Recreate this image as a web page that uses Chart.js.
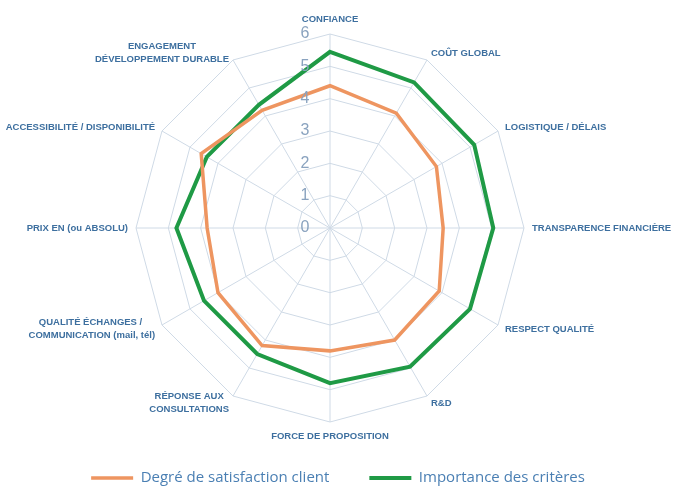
<!DOCTYPE html>
<html>
<head>
<meta charset="utf-8">
<script src="https://cdn.jsdelivr.net/npm/chart.js@4"></script>
<style>
  html, body { margin: 0; padding: 0; background: #ffffff; }
  #wrap { width: 676px; height: 490px; }
</style>
</head>
<body>
<div id="wrap"><canvas id="radar"></canvas></div>
<script>
// Critères évalués (sens horaire à partir du haut)
const criteres = [
  'CONFIANCE',
  'COÛT GLOBAL',
  'LOGISTIQUE / DÉLAIS',
  'TRANSPARENCE FINANCIÈRE',
  'RESPECT QUALITÉ',
  'R&D',
  'FORCE DE PROPOSITION',
  ['RÉPONSE AUX', 'CONSULTATIONS'],
  ['QUALITÉ ÉCHANGES / ', 'COMMUNICATION (mail, tél)'],
  'PRIX EN (ou ABSOLU)',
  'ACCESSIBILITÉ / DISPONIBILITÉ',
  ['ENGAGEMENT', 'DÉVELOPPEMENT DURABLE']
];

const satisfaction = [4.4, 4.1, 3.8, 3.5, 3.9, 4.0, 3.8, 4.2, 4.0, 3.8, 4.6, 4.2];
const importance   = [5.45, 5.2, 5.15, 5.05, 5.0, 4.95, 4.8, 4.5, 4.5, 4.75, 4.4, 4.4];

const graduations = [0, 1, 2, 3, 4, 5, 6];

// Géométrie de la toile : centre et rayon
const toile = { cx: 330, cy: 228, rayon: 194 };

// Graduations à gauche de l'axe vertical et libellés des critères autour de la toile
const radarText = {
  id: 'radarText',
  afterDatasetsDraw(chart) {
    const r = chart.scales.r;
    const ctx = chart.ctx;
    ctx.save();

    ctx.font = '16px "Liberation Sans", sans-serif';
    ctx.fillStyle = '#8aa3bf';
    ctx.textAlign = 'center';
    ctx.textBaseline = 'middle';
    graduations.forEach(v => {
      const d = r.getDistanceFromCenterForValue(v);
      ctx.fillText(String(v), r.xCenter - 25, r.yCenter - d);
    });

    ctx.font = 'bold 9.5px "Liberation Sans", sans-serif';
    ctx.fillStyle = '#3d6f9f';
    const lineH = 13;
    const n = chart.data.labels.length;
    chart.data.labels.forEach((lab, i) => {
      const lines = Array.isArray(lab) ? lab : [lab];
      const p = r.getPointPosition(i, r.drawingArea + 8);
      const w = Math.max(...lines.map(t => ctx.measureText(t).width));
      const h = lines.length * lineH;
      let left;
      if (p.x > r.xCenter + 1) left = p.x;
      else if (p.x < r.xCenter - 1) left = p.x - w;
      else left = p.x - w / 2;
      let top;
      if (i === 0) top = p.y - h;
      else if (i === n / 2) top = p.y;
      else top = p.y - h / 2;
      ctx.textAlign = 'center';
      ctx.textBaseline = 'middle';
      lines.forEach((t, k) => {
        ctx.fillText(t, left + w / 2, top + lineH * (k + 0.5));
      });
    });
    ctx.restore();
  }
};

new Chart(document.getElementById('radar'), {
  type: 'radar',
  data: {
    labels: criteres,
    datasets: [
      {
        label: 'Degré de satisfaction client',
        data: satisfaction,
        borderColor: '#ee9560',
        backgroundColor: 'rgba(0,0,0,0)',
        borderWidth: 3.5,
        pointRadius: 0,
        tension: 0
      },
      {
        label: 'Importance des critères',
        data: importance,
        borderColor: '#1f9a45',
        backgroundColor: 'rgba(0,0,0,0)',
        borderWidth: 4,
        pointRadius: 0,
        tension: 0
      }
    ]
  },
  options: {
    responsive: true,
    maintainAspectRatio: false,
    animation: false,
    layout: { padding: { top: 0, bottom: -5.5, left: 0, right: 0 } },
    scales: {
      r: {
        min: 0,
        max: 6,
        ticks: { display: false, stepSize: 1 },
        grid: { color: '#cfdae6', lineWidth: 1 },
        angleLines: { color: '#cfdae6', lineWidth: 1 },
        pointLabels: { display: false },
        afterFit(scale) {
          scale.xCenter = toile.cx;
          scale.yCenter = toile.cy;
          scale.drawingArea = toile.rayon;
        }
      }
    },
    plugins: {
      legend: {
        position: 'bottom',
        labels: {
          usePointStyle: true,
          pointStyle: 'line',
          pointStyleWidth: 42,
          color: '#4a7fb3',
          font: { family: '"Open Sans", sans-serif', size: 15 },
          padding: 40
        }
      },
      tooltip: { enabled: false }
    }
  },
  plugins: [radarText]
});
</script>
</body>
</html>
